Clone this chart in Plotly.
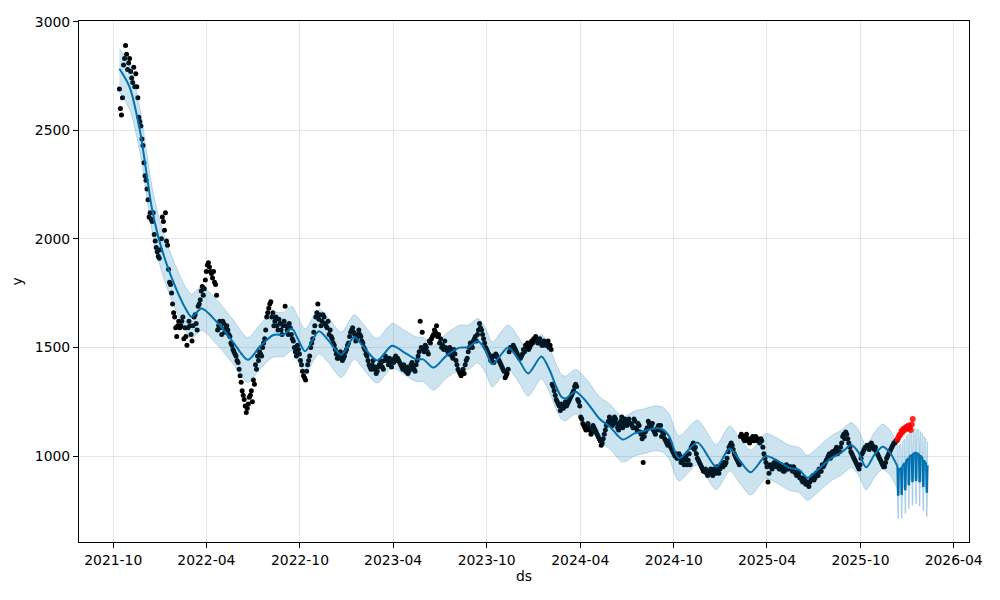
import pandas as pd
import plotly.graph_objects as go

# ---------------- observed (training) points ----------------
# set A: every 4 days from 2021-10-13 ; set B: every 4 days from 2021-10-15
obs_a_start = "2021-10-13"
obs_b_start = "2021-10-15"
obs_step = "4D"
obs_rows_a = [
    [2690, 2570, 2800, 2890, 2780, 2830, 2740, 2790],
    [2760, 2650, 2540, 2460, 2350, 2270, 2180, 2120],
    [2080, 2020, 1960, 1920, 1950, 2100, 2040, 1990],
    [1860, 1790, 1700, 1640, 1550, 1620, 1600, 1640],
    [1590, 1510, 1620, 1560, 1600, 1650, 1580, 1700],
    [1760, 1740, 1810, 1880, 1870, 1840, 1850, 1790],
    [1580, 1620, 1560, 1610, 1590, 1580, 1550, 1510],
    [1480, 1460, 1430, 1370, 1300, 1260, 1200, 1240],
    [1280, 1250, 1330, 1400, 1440, 1470, 1500, 1540],
    [1640, 1680, 1710, 1660, 1620, 1600, 1630, 1580],
    [1600, 1690, 1580, 1610, 1560, 1530, 1480, 1510],
    [1470, 1420, 1370, 1350, 1420, 1460, 1520, 1570],
    [1640, 1700, 1650, 1620, 1640, 1600, 1620, 1580],
    [1540, 1510, 1470, 1450, 1480, 1440, 1460, 1490],
    [1520, 1570, 1590, 1560, 1540, 1580, 1550, 1520],
    [1490, 1460, 1420, 1400, 1440, 1410, 1390, 1420],
    [1430, 1400, 1460, 1440, 1450, 1410, 1430, 1460],
    [1450, 1430, 1410, 1420, 1390, 1380, 1400, 1430],
    [1400, 1420, 1460, 1620, 1570, 1480, 1500, 1470],
    [1520, 1550, 1580, 1600, 1560, 1540, 1510, 1530],
    [1490, 1470, 1480, 1450, 1470, 1420, 1390, 1370],
    [1400, 1420, 1450, 1500, 1510, 1530, 1550, 1560],
    [1610, 1580, 1540, 1500, 1480, 1460, 1450, 1430],
    [1470, 1450, 1430, 1410, 1390, 1370, 1400, 1500],
    [1490, 1500, 1480, 1460, 1450, 1470, 1480, 1500],
    [1490, 1510, 1520, 1530, 1540, 1530, 1520, 1510],
    [1520, 1510, 1500, 1490, 1320, 1280, 1250, 1230],
    [1240, 1220, 1250, 1240, 1260, 1280, 1300, 1330],
    [1260, 1230, 1170, 1140, 1120, 1150, 1130, 1110],
    [1130, 1110, 1090, 1070, 1060, 1100, 1140, 1160],
    [1170, 1140, 1180, 1150, 1120, 1160, 1130, 1170],
    [1140, 1170, 1150, 1130, 1160, 1120, 1140, 1100],
    [970, 1110, 1130, 1150, 1140, 1120, 1100, 1130],
    [1120, 1090, 1100, 1070, 1050, 1060, 1030, 1010],
    [1010, 990, 1000, 980, 960, 1000, 980, 960],
    [1050, 1030, 1010, 980, 960, 940, 930, 920],
    [920, 940, 910, 930, 950, 920, 960, 950],
    [960, 990, 1040, 1060, 1030, 1000, 980, 960],
    [1100, 1080, 1090, 1070, 1060, 1080, 1070, 1090],
    [1080, 1060, 1070, 1010, 970, 880, 960, 940],
    [970, 950, 960, 940, 950, 930, 960, 940],
    [950, 930, 940, 910, 920, 900, 880, 890],
    [880, 860, 890, 910, 900, 920, 940, 930],
    [950, 970, 990, 1010, 1000, 1020, 1030, 1010],
    [1020, 1060, 1100, 1110, 1080, 1040, 1010, 990],
    [970, 950, 960, 1010, 1030, 1040, 1050, 1040],
    [1050, 1030, 1020, 1000, 980, 960, 950, 990],
    [1010, 1030, 1050, 1060, 1070],
]
obs_rows_b = [
    [2600, 2650, 2830, 2850, 2810, 2770, 2720, 2700],
    [2700, 2560, 2520, 2430, 2290, 2230, 2100, 2090],
    [2120, 1990, 1940, 1910, 2000, 2080, 2120, 1970],
    [1800, 1750, 1660, 1590, 1600, 1590, 1620, 1540],
    [1550, 1590, 1600, 1530, 1640, 1610, 1690, 1720],
    [1780, 1770, 1850, 1890, 1850, 1820, 1800, 1740],
    [1600, 1590, 1620, 1570, 1600, 1560, 1520, 1490],
    [1470, 1440, 1400, 1340, 1280, 1230, 1220, 1270],
    [1300, 1350, 1420, 1460, 1480, 1460, 1520, 1580],
    [1660, 1700, 1640, 1600, 1640, 1580, 1610, 1560],
    [1620, 1600, 1560, 1590, 1540, 1500, 1460, 1490],
    [1440, 1390, 1360, 1390, 1440, 1500, 1540, 1600],
    [1660, 1630, 1600, 1650, 1610, 1590, 1560, 1550],
    [1520, 1490, 1450, 1470, 1460, 1450, 1480, 1510],
    [1550, 1580, 1570, 1530, 1560, 1560, 1530, 1500],
    [1470, 1440, 1410, 1420, 1400, 1380, 1410, 1440],
    [1410, 1440, 1450, 1420, 1430, 1440, 1450, 1440],
    [1440, 1420, 1400, 1400, 1410, 1390, 1420, 1410],
    [1390, 1440, 1480, 1500, 1490, 1510, 1480, 1530],
    [1540, 1560, 1570, 1550, 1520, 1500, 1490, 1500],
    [1480, 1500, 1460, 1490, 1440, 1400, 1380, 1390],
    [1380, 1440, 1480, 1520, 1500, 1540, 1530, 1580],
    [1590, 1560, 1520, 1490, 1470, 1440, 1460, 1460],
    [1460, 1440, 1420, 1400, 1360, 1380, 1480, 1490],
    [1510, 1490, 1470, 1450, 1460, 1490, 1510, 1520],
    [1500, 1530, 1540, 1550, 1520, 1540, 1510, 1530],
    [1510, 1530, 1510, 1330, 1300, 1260, 1240, 1210],
    [1230, 1240, 1230, 1250, 1270, 1290, 1320, 1320],
    [1250, 1180, 1150, 1130, 1140, 1120, 1100, 1140],
    [1120, 1100, 1080, 1050, 1080, 1120, 1150, 1180],
    [1150, 1160, 1170, 1130, 1140, 1180, 1150, 1160],
    [1160, 1150, 1140, 1170, 1130, 1150, 1110, 1080],
    [1090, 1120, 1160, 1130, 1150, 1110, 1120, 1140],
    [1140, 1110, 1080, 1060, 1070, 1040, 1020, 1000],
    [990, 1010, 970, 990, 980, 960, 1010, 1040],
    [1060, 1040, 990, 970, 950, 930, 940, 910],
    [930, 920, 940, 920, 930, 940, 950, 970],
    [970, 1020, 1050, 1050, 1010, 990, 970, 1090],
    [1090, 1070, 1100, 1080, 1070, 1090, 1080, 1070],
    [1070, 1080, 1040, 990, 950, 920, 950, 960],
    [960, 970, 940, 960, 930, 950, 940, 950],
    [940, 950, 920, 930, 900, 890, 900, 870],
    [870, 880, 900, 890, 920, 910, 930, 960],
    [960, 980, 1000, 990, 1020, 1010, 1040, 1020],
    [1040, 1090, 1080, 1100, 1060, 1020, 1000, 980],
    [960, 940, 990, 1020, 1040, 1050, 1030, 1060],
    [1040, 1040, 1010, 990, 970, 950, 970, 1000],
    [1020, 1040, 1060, 1070],
]

# ---------------- actual values after training end (red) ----------------
red_start = "2025-12-12"
red_step = "2D"
red_y = [1075, 1085, 1095, 1100, 1115, 1110, 1125, 1120,
         1130, 1135, 1125, 1140, 1130, 1120, 1145, 1170]

# ---------------- fitted trend (history) ----------------
fit_ds = [
    "2021-10-13", "2021-11-02", "2021-11-22", "2021-12-05", "2021-12-15", "2021-12-28",
    "2022-01-13", "2022-02-02", "2022-02-21", "2022-03-03", "2022-03-23", "2022-04-21",
    "2022-05-23", "2022-06-21", "2022-07-15", "2022-08-10", "2022-08-30", "2022-09-15",
    "2022-09-28", "2022-10-11", "2022-11-07", "2022-11-25", "2022-12-21", "2023-01-15",
    "2023-02-02", "2023-03-01", "2023-03-30", "2023-04-21", "2023-05-17", "2023-05-30",
    "2023-06-19", "2023-07-14", "2023-08-09", "2023-08-26", "2023-09-14", "2023-09-30",
    "2023-10-12", "2023-11-12", "2023-12-04", "2023-12-21", "2024-01-16", "2024-02-01",
    "2024-02-14", "2024-02-24", "2024-03-03", "2024-03-23", "2024-04-13", "2024-05-09",
    "2024-05-29", "2024-06-23", "2024-07-16", "2024-08-05", "2024-08-24", "2024-09-09",
    "2024-09-22", "2024-10-11", "2024-11-16", "2024-12-23", "2025-01-18", "2025-02-06",
    "2025-02-28", "2025-03-30", "2025-04-17", "2025-05-15", "2025-06-03", "2025-06-19",
    "2025-07-09", "2025-08-04", "2025-08-24", "2025-09-13", "2025-09-26", "2025-10-12",
    "2025-10-28", "2025-11-13", "2025-11-26", "2025-12-11",
]
fit_yhat = [
    2783, 2699, 2500, 2302, 2147, 2009,
    1886, 1764, 1672, 1641, 1679, 1618,
    1526, 1443, 1505, 1557, 1560, 1587,
    1534, 1482, 1574, 1534, 1466, 1548,
    1503, 1440, 1508, 1480, 1445, 1445,
    1407, 1461, 1499, 1500, 1530, 1480,
    1422, 1500, 1438, 1380, 1458, 1396,
    1319, 1273, 1265, 1296, 1250, 1170,
    1135, 1076, 1104, 1116, 1127, 1122,
    1090, 989, 1062, 950, 1035, 982,
    925, 1000, 984, 945, 936, 900,
    936, 989, 1015, 1051, 1020, 948,
    1005, 1043, 1020, 958,
]
fit_upper = [
    2875, 2800, 2600, 2405, 2250, 2110,
    1985, 1865, 1772, 1745, 1780, 1720,
    1628, 1545, 1607, 1660, 1662, 1690,
    1636, 1585, 1676, 1637, 1570, 1650,
    1606, 1542, 1610, 1583, 1548, 1547,
    1510, 1563, 1602, 1603, 1633, 1582,
    1525, 1603, 1540, 1483, 1560, 1498,
    1422, 1376, 1368, 1398, 1353, 1272,
    1238, 1180, 1207, 1218, 1230, 1225,
    1193, 1092, 1165, 1053, 1138, 1085,
    1028, 1103, 1087, 1048, 1039, 1003,
    1039, 1092, 1118, 1154, 1123, 1051,
    1108, 1146, 1123, 1061,
]
fit_lower = [
    2675, 2595, 2398, 2200, 2045, 1905,
    1782, 1662, 1570, 1540, 1578, 1515,
    1425, 1338, 1402, 1455, 1458, 1485,
    1430, 1380, 1470, 1432, 1362, 1445,
    1400, 1336, 1405, 1378, 1342, 1343,
    1303, 1358, 1396, 1398, 1428, 1377,
    1318, 1397, 1335, 1276, 1355, 1292,
    1215, 1170, 1162, 1193, 1147, 1066,
    1032, 972, 1000, 1012, 1024, 1018,
    986, 885, 958, 846, 931, 878,
    820, 896, 880, 841, 832, 796,
    832, 885, 911, 947, 916, 844,
    901, 939, 916, 854,
]

# ---------------- daily forecast ----------------
fc_start = "2025-12-11"
fc_yhat = [
    958, 950, 822, 818, 940, 938, 940, 943, 946, 822, 825,
    955, 958, 962, 965, 968, 843, 846, 978, 981, 985,
    988, 990, 866, 869, 998, 1000, 1002, 1004, 1006, 882, 884,
    1011, 1013, 1014, 1015, 1015, 890, 890, 1014, 1013, 1012, 1010, 1008,
    882, 880, 1003, 1000, 997, 994, 990, 862,
    858, 980, 976, 972, 968, 964, 836, 832, 955, 952,
]
fc_upper = [
    1064, 1058, 930, 927, 1049, 1047, 1050, 1052, 1055, 932, 934,
    1064, 1068, 1071, 1074, 1078, 952, 956, 1087, 1091, 1094,
    1097, 1100, 975, 979, 1107, 1110, 1111, 1114, 1116, 991, 994,
    1120, 1123, 1124, 1125, 1126, 999, 1001, 1124, 1124, 1122, 1121, 1119,
    992, 991, 1113, 1111, 1108, 1105, 1101, 972,
    969, 1091, 1087, 1083, 1079, 1075, 947, 944, 1066, 1064,
]
fc_lower = [
    852, 843, 714, 710, 833, 830, 832, 835, 837, 713, 716,
    847, 849, 853, 856, 859, 734, 737, 869, 871, 876,
    879, 880, 757, 760, 888, 890, 893, 895, 896, 772, 775,
    902, 903, 905, 905, 906, 780, 780, 904, 903, 902, 899, 898,
    771, 769, 893, 889, 887, 883, 879, 751,
    747, 869, 866, 861, 857, 852, 725, 721, 844, 841,
]

y_ticks = [1000, 1500, 2000, 2500, 3000]

# ---------------- build ----------------
obs_a_y = [v for row in obs_rows_a for v in row]
obs_b_y = [v for row in obs_rows_b for v in row]
obs_a_ds = pd.date_range(obs_a_start, periods=len(obs_a_y), freq=obs_step)
obs_b_ds = pd.date_range(obs_b_start, periods=len(obs_b_y), freq=obs_step)
obs = pd.DataFrame({"ds": list(obs_a_ds) + list(obs_b_ds),
                    "y": obs_a_y + obs_b_y}).sort_values("ds")
red_ds = pd.date_range(red_start, periods=len(red_y), freq=red_step)
fc_ds = pd.date_range(fc_start, periods=len(fc_yhat), freq="D")

BLUE = "#0072B2"
BAND_FILL = "rgba(0,114,178,0.2)"
BAND_LINE = "rgba(0,114,178,0.22)"
FONT = dict(family="DejaVu Sans", size=13.9, color="black")

fig = go.Figure()

fig.add_trace(go.Scatter(x=obs["ds"], y=obs["y"], mode="markers",
                         marker=dict(color="black", size=5), hoverinfo="skip"))

fig.add_trace(go.Scatter(x=fit_ds, y=fit_yhat, mode="lines",
                         line=dict(color=BLUE, width=2, shape="spline", smoothing=0.8),
                         hoverinfo="skip"))
fig.add_trace(go.Scatter(x=fc_ds, y=fc_yhat, mode="lines",
                         line=dict(color=BLUE, width=2), hoverinfo="skip"))

fig.add_trace(go.Scatter(x=fit_ds, y=fit_lower, mode="lines",
                         line=dict(color=BAND_LINE, width=1, shape="spline", smoothing=0.8),
                         hoverinfo="skip"))
fig.add_trace(go.Scatter(x=fit_ds, y=fit_upper, mode="lines", fill="tonexty",
                         fillcolor=BAND_FILL,
                         line=dict(color=BAND_LINE, width=1, shape="spline", smoothing=0.8),
                         hoverinfo="skip"))
fig.add_trace(go.Scatter(x=fc_ds, y=fc_lower, mode="lines",
                         line=dict(color=BAND_LINE, width=1), hoverinfo="skip"))
fig.add_trace(go.Scatter(x=fc_ds, y=fc_upper, mode="lines", fill="tonexty",
                         fillcolor=BAND_FILL, line=dict(color=BAND_LINE, width=1),
                         hoverinfo="skip"))

fig.add_trace(go.Scatter(x=red_ds, y=red_y, mode="markers",
                         marker=dict(color="rgba(255,0,0,0.85)", size=6),
                         hoverinfo="skip"))

axis_common = dict(
    showgrid=True, gridcolor="rgba(128,128,128,0.2)", gridwidth=1,
    showline=True, linecolor="black", linewidth=1, mirror=True,
    ticks="outside", ticklen=5, tickwidth=1, tickcolor="black",
    zeroline=False, automargin=False, tickfont=FONT,
)

fig.update_layout(
    width=1000, height=600,
    margin=dict(l=79, r=31, t=21, b=58, autoexpand=False),
    plot_bgcolor="white", paper_bgcolor="white",
    showlegend=False,
    font=FONT,
    xaxis=dict(type="date", range=["2021-07-26", "2026-05-01"],
               tickformat="%Y-%m", dtick="M6", tick0="2021-10-01",
               title=dict(text="ds", standoff=4, font=FONT), **axis_common),
    yaxis=dict(range=[604, 3003], tickvals=y_ticks,
               ticktext=[str(v) for v in y_ticks],
               title=dict(text="y", standoff=8, font=FONT), **axis_common),
)

fig.write_html("out.html", config={"displayModeBar": False},
               post_script="document.body.style.margin='0px';")
